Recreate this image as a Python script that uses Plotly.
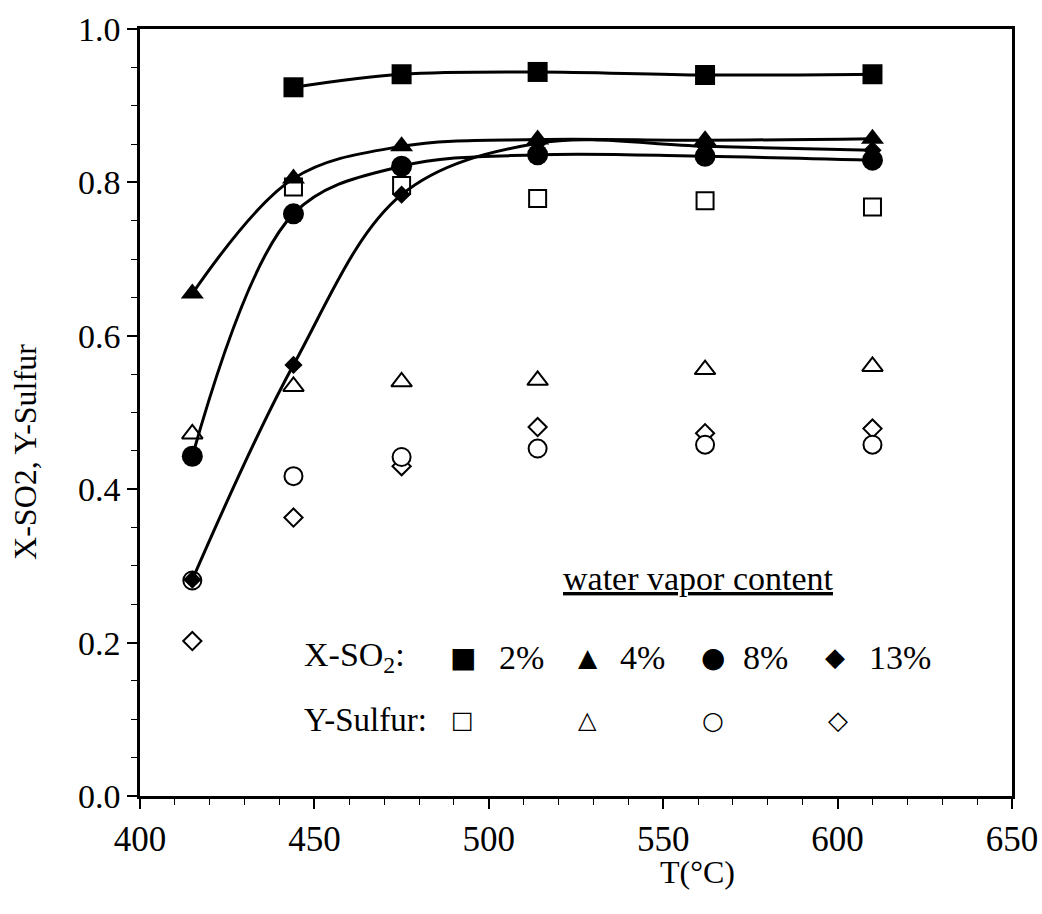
import plotly.graph_objects as go

# Temperatures (°C)
T_all = [415, 444, 475, 514, 562, 610]
T_2 = [444, 475, 514, 562, 610]

# X-SO2 conversion (filled markers)
x_so2_2 = [0.924, 0.941, 0.944, 0.940, 0.941]
x_so2_4 = [0.655, 0.805, 0.847, 0.856, 0.855, 0.857]
x_so2_8 = [0.443, 0.759, 0.821, 0.836, 0.834, 0.829]
x_so2_13 = [0.282, 0.562, 0.784, 0.851, 0.847, 0.842]

# Y-Sulfur yield (open markers)
y_s_2 = [0.794, 0.796, 0.779, 0.776, 0.768]
y_s_4 = [0.472, 0.534, 0.540, 0.542, 0.556, 0.560]
y_s_8 = [0.281, 0.417, 0.442, 0.453, 0.458, 0.458]
y_s_13 = [0.202, 0.363, 0.430, 0.481, 0.473, 0.479]

x_ticks = [400, 450, 500, 550, 600, 650]
y_ticks = [0.0, 0.2, 0.4, 0.6, 0.8, 1.0]
legend_labels = ["2%", "4%", "8%", "13%"]

FONT = "Liberation Serif"
fig = go.Figure()

# Open (Y-Sulfur) markers
open_specs = [
    (T_all, y_s_13, "diamond", 14),
    (T_all, y_s_8, "circle", 18),
    (T_all, y_s_4, "triangle-up", 18),
    (T_2, y_s_2, "square", 17),
]
for xs, ys, sym, sz in open_specs:
    fig.add_trace(go.Scatter(
        x=xs, y=ys, mode="markers", showlegend=False, hoverinfo="skip",
        marker=dict(symbol=sym, size=sz, color="white",
                    line=dict(color="black", width=2))))

# Filled (X-SO2) markers with smooth curves
filled_specs = [
    (T_all, x_so2_13, "diamond", 14),
    (T_all, x_so2_8, "circle", 21),
    (T_all, x_so2_4, "triangle-up", 20),
    (T_2, x_so2_2, "square", 20),
]
for xs, ys, sym, sz in filled_specs:
    fig.add_trace(go.Scatter(
        x=xs, y=ys, mode="lines+markers", showlegend=False, hoverinfo="skip",
        line=dict(color="black", width=3, shape="spline", smoothing=1.0),
        marker=dict(symbol=sym, size=sz, color="black",
                    line=dict(color="black", width=0))))

# Legend built from annotations
ann = []
ann.append(dict(x=560, y=0.283, text="<u>water vapor content</u>", showarrow=False,
                font=dict(family=FONT, size=34, color="black"), xanchor="center", yanchor="middle"))
ann.append(dict(x=446.5, y=0.181, text="X-SO<sub>2</sub>:", showarrow=False,
                font=dict(family=FONT, size=34, color="black"), xanchor="left", yanchor="middle"))
ann.append(dict(x=446.5, y=0.099, text="Y-Sulfur:", showarrow=False,
                font=dict(family=FONT, size=33, color="black"), xanchor="left", yanchor="middle"))

legend_x_sym = [492.6, 528.4, 564.3, 599.3]
legend_x_lab = [509.5, 544.2, 579.2, 617.9]
filled_glyphs = ["■", "▲", "●", "◆"]
open_glyphs = ["□", "△", "○", "◇"]
filled_sizes = [28, 25, 28, 26]
open_sizes = [24, 24, 25, 26]
for i in range(4):
    ann.append(dict(x=legend_x_sym[i], y=0.181, text=filled_glyphs[i], showarrow=False,
                    font=dict(family="DejaVu Sans", size=filled_sizes[i], color="black"),
                    xanchor="center", yanchor="middle"))
    ann.append(dict(x=legend_x_lab[i], y=0.181, text=legend_labels[i], showarrow=False,
                    font=dict(family=FONT, size=34, color="black"),
                    xanchor="center", yanchor="middle"))
    ann.append(dict(x=legend_x_sym[i] + (0.8 if i == 3 else 0), y=0.099, text=open_glyphs[i], showarrow=False,
                    font=dict(family="DejaVu Sans", size=open_sizes[i], color="black"),
                    xanchor="center", yanchor="middle"))

# Axis titles
ann.append(dict(xref="paper", yref="paper", x=0.639, y=-0.099, text="T(°C)", showarrow=False,
                font=dict(family=FONT, size=32, color="black"), xanchor="center", yanchor="middle"))
ann.append(dict(xref="paper", yref="paper", x=-0.132, y=0.4485, text="X-SO2, Y-Sulfur", showarrow=False,
                textangle=-90,
                font=dict(family=FONT, size=32, color="black"), xanchor="center", yanchor="middle"))

fig.update_layout(
    width=1042, height=914,
    margin=dict(l=140, r=30, t=29, b=118),
    paper_bgcolor="white", plot_bgcolor="white",
    font=dict(family=FONT, color="black"),
    annotations=ann,
    xaxis=dict(
        range=[400, 650], tickvals=x_ticks, automargin=False,
        showgrid=False, zeroline=False,
        showline=True, linecolor="black", linewidth=2.5, mirror=True,
        ticks="outside", ticklen=10, tickwidth=1.5, tickcolor="black",
        minor=dict(ticks="outside", ticklen=6, tickwidth=1, dtick=10, tickcolor="black"),
        tickfont=dict(family=FONT, size=35, color="black"),
    ),
    yaxis=dict(
        range=[0, 1.0], tickvals=y_ticks, automargin=False,
        tickformat=".1f",
        showgrid=False, zeroline=False,
        showline=True, linecolor="black", linewidth=2.5, mirror=True,
        ticks="outside", ticklen=10, tickwidth=1.5, tickcolor="black",
        minor=dict(ticks="outside", ticklen=6, tickwidth=1, dtick=0.05, tickcolor="black"),
        tickfont=dict(family=FONT, size=34, color="black"),
    ),
)

# Remove the default page margin so the 1042x914 figure fills the window exactly.
fig.write_html("out.html", config={"displayModeBar": False},
               post_script="document.body.style.margin='0';document.body.style.overflow='hidden';")
